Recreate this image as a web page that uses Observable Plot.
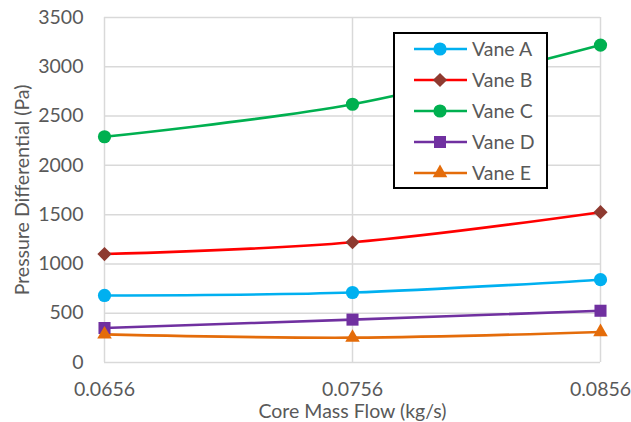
<!DOCTYPE html>
<html><head><meta charset="utf-8">
<script src="https://cdn.jsdelivr.net/npm/d3@7"></script>
<script src="https://cdn.jsdelivr.net/npm/@observablehq/plot@0.6"></script>
<style>
body{margin:0;background:#fff;}
#wrap{position:relative;width:631px;height:422px;font-family:Lato,sans-serif;}
#legend{position:absolute;left:393px;top:32px;width:151px;height:153px;border:2px solid #000;background:#fff;}
</style>
</head><body><div id="wrap"></div>
<script>
const massFlow = [0.0656, 0.0756, 0.0856];
const seriesNames = ["Vane A", "Vane B", "Vane C", "Vane D", "Vane E"];
const vaneA = [680, 710, 840];
const vaneB = [1100, 1220, 1525];
const vaneC = [2290, 2620, 3220];
const vaneD = [350, 435, 525];
const vaneE = [285, 252, 310];
const yTicks = [0, 500, 1000, 1500, 2000, 2500, 3000, 3500];
const xTicks = [0.0656, 0.0756, 0.0856];

const seriesValues = [vaneA, vaneB, vaneC, vaneD, vaneE];
const lineColors = ["#00B0F0", "#FF0000", "#00B050", "#7030A0", "#E46C0A"];
const markerColors = ["#00B0F0", "#8E3A30", "#00B050", "#7030A0", "#E46C0A"];
const symbols = ["circle", "diamond2", "circle", "square", "triangle"];
const radii = [6.6, 6.4, 6.6, 6.8, 5.4];

const data = seriesNames.flatMap((name, i) =>
  massFlow.map((x, j) => ({series: name, x, y: seriesValues[i][j]})));

const grid = "#D9D9D9";
const fs = 19.5;
const marks = [
  Plot.gridY(yTicks, {stroke: grid, strokeOpacity: 1, strokeWidth: 1.5}),
  Plot.gridX(xTicks, {stroke: grid, strokeOpacity: 1, strokeWidth: 1.5}),
  Plot.axisY(yTicks, {tickSize: 0, tickPadding: 21, label: null, fontSize: fs, fill: "#595959", tickFormat: d => String(d)}),
  Plot.axisX(xTicks, {tickSize: 0, tickPadding: 20, label: null, fontSize: fs, fill: "#595959", tickFormat: d => d.toFixed(4)}),
  Plot.text(["Pressure Differential (Pa)"], {frameAnchor: "left", rotate: -90, dx: -82, textAnchor: "middle", lineAnchor: "middle", fontSize: fs, fill: "#595959"}),
  Plot.text(["Core Mass Flow (kg/s)"], {frameAnchor: "bottom", dy: 49, textAnchor: "middle", lineAnchor: "middle", fontSize: fs, fill: "#595959"})
];
seriesNames.forEach((name, i) => {
  const d = data.filter(r => r.series === name);
  marks.push(Plot.line(d, {x: "x", y: "y", stroke: lineColors[i], strokeWidth: 2.6, curve: "catmull-rom"}));
});
seriesNames.forEach((name, i) => {
  const d = data.filter(r => r.series === name);
  marks.push(Plot.dot(d, {x: "x", y: "y", symbol: symbols[i], r: radii[i], fill: markerColors[i], stroke: "none"}));
});

const chart = Plot.plot({
  width: 631, height: 422,
  marginLeft: 104, marginRight: 31, marginTop: 17, marginBottom: 60,
  style: {fontFamily: "Lato, sans-serif", background: "#fff"},
  x: {domain: [0.0656, 0.0856]},
  y: {domain: [0, 3500]},
  marks
});
const wrap = document.getElementById("wrap");
wrap.appendChild(chart);

// Legend
const leg = d3.select(wrap).append("div").attr("id", "legend");
const svg = leg.append("svg").attr("width", 151).attr("height", 153);
const symMap = {circle: d3.symbolCircle, diamond2: d3.symbolDiamond2, square: d3.symbolSquare, triangle: d3.symbolTriangle};
seriesNames.forEach((name, i) => {
  const g = svg.append("g").attr("transform", `translate(0,${15 + i * 31})`);
  g.append("line").attr("x1", 19).attr("x2", 72).attr("y1", 0).attr("y2", 0)
    .attr("stroke", lineColors[i]).attr("stroke-width", 2.6);
  g.append("path").attr("transform", "translate(45,0)")
    .attr("d", d3.symbol(symMap[symbols[i]], Math.PI * radii[i] * radii[i])())
    .attr("fill", markerColors[i]);
  g.append("text").attr("x", 77).attr("y", 0).attr("dy", "0.35em")
    .attr("font-size", fs).attr("fill", "#595959").attr("font-family", "Lato, sans-serif").text(name);
});
</script>
</body></html>
